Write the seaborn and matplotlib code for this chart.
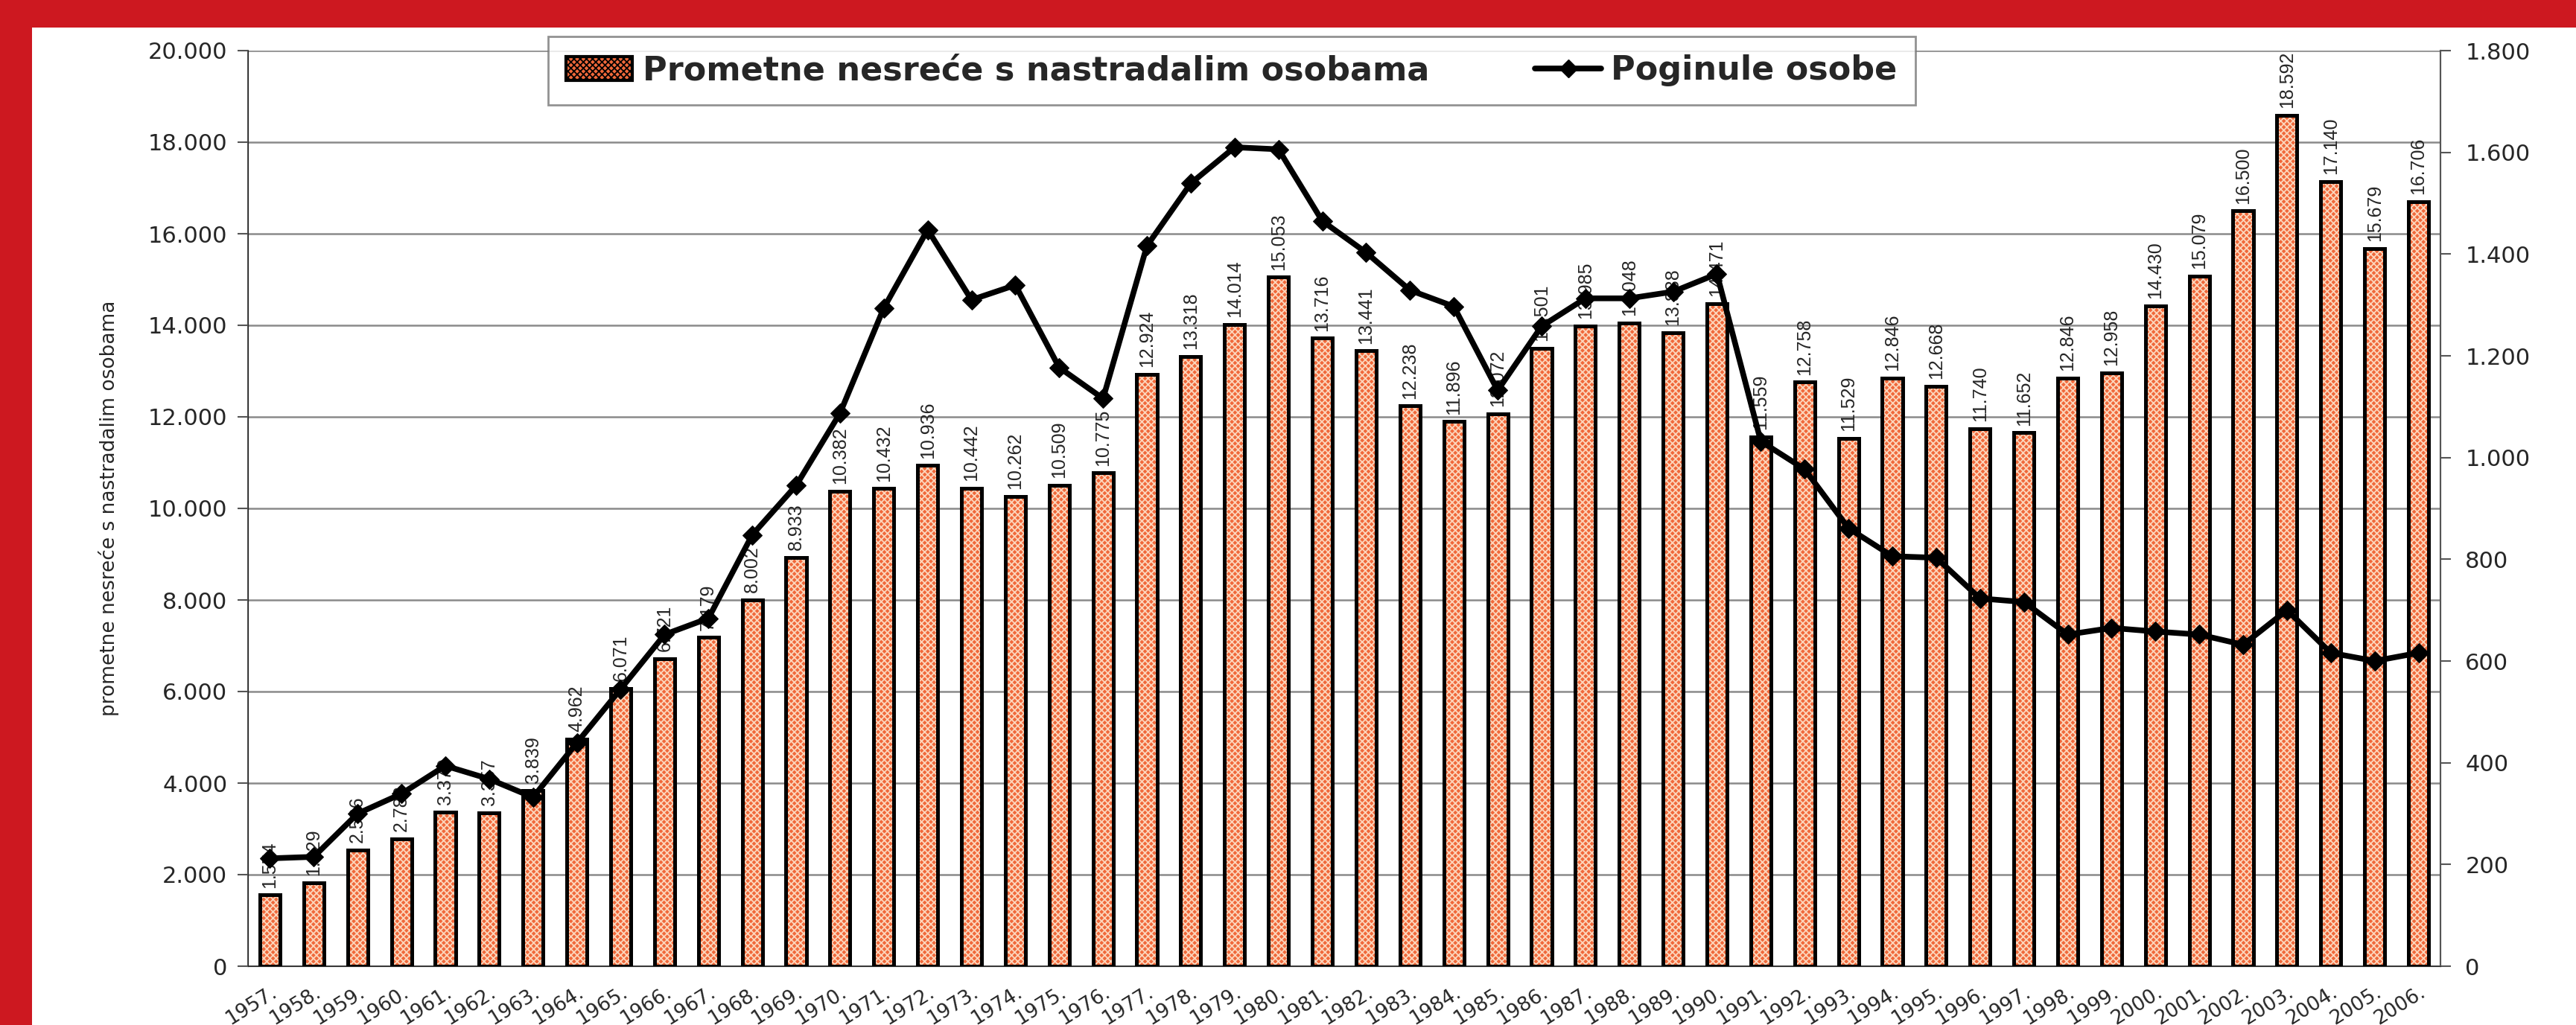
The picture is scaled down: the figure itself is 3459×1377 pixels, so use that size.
import numpy as np
import matplotlib
matplotlib.use("Agg")
import matplotlib.pyplot as plt
import matplotlib.patches as mpatches
from matplotlib.lines import Line2D
from matplotlib.ticker import FuncFormatter, MultipleLocator
import seaborn as sns

# podaci
years = [f"{y}." for y in range(1957, 2007)]
accidents = [1554, 1829, 2536, 2783, 3370, 3357, 3839, 4962, 6071, 6721,
             7179, 8002, 8933, 10382, 10432, 10936, 10442, 10262, 10509, 10775,
             12924, 13318, 14014, 15053, 13716, 13441, 12238, 11896, 12072, 13501,
             13985, 14048, 13838, 14471, 11559, 12758, 11529, 12846, 12668, 11740,
             11652, 12846, 12958, 14430, 15079, 16500, 18592, 17140, 15679, 16706]
deaths = [212, 215, 300, 339, 394, 368, 332, 439, 545, 652,
          684, 848, 945, 1087, 1294, 1448, 1310, 1339, 1177, 1116,
          1416, 1539, 1610, 1606, 1465, 1403, 1329, 1297, 1132, 1258,
          1313, 1313, 1326, 1361, 1032, 977, 861, 806, 803, 723,
          716, 652, 665, 658, 652, 632, 700, 616, 600, 616]

bar_name = "Prometne nesreće s nastradalim osobama"
line_name = "Poginule osobe"

sns.set_style("white")
plt.rcParams['font.family'] = ['DejaVu Sans']
plt.rcParams['hatch.linewidth'] = 1.3

fig = plt.figure(figsize=(34.59, 13.77), dpi=100)
fig.patch.set_facecolor('#CD1820')
# bijela podloga unutar crvenog okvira
fig.add_artist(mpatches.Rectangle((43 / 3459, 0), 1, 1 - 37 / 1377,
                                  transform=fig.transFigure, facecolor='white',
                                  edgecolor='none', zorder=0))

ax = fig.add_axes([333 / 3459, 79 / 1377, 2944 / 3459, 1230 / 1377])
ax.set_facecolor('none')

bar_w = 0.46
sns.barplot(x=years, y=accidents, ax=ax, color='#F0683A', width=bar_w,
            errorbar=None, linewidth=0, saturation=1, zorder=2)
for p in ax.patches:
    p.set_hatch('xxxx')
    p.set_edgecolor('#FCD6BC')
    p.set_linewidth(0)
vals_container = ax.containers[0]
sns.barplot(x=years, y=accidents, ax=ax, fill=False, color='black', width=bar_w,
            errorbar=None, linewidth=3.6, zorder=3)

ax.bar_label(vals_container, labels=[f"{v:,}".replace(",", ".") for v in accidents],
             rotation=90, padding=7, fontsize=18,
             family=['Liberation Sans Narrow', 'Liberation Sans'], zorder=4)

ax.set_ylim(0, 20000)
ax.set_xlim(-0.5, len(years) - 0.5)
ax.yaxis.set_major_locator(MultipleLocator(2000))
ax.yaxis.set_major_formatter(FuncFormatter(lambda v, p: f"{int(v):,}".replace(",", ".")))
ax.grid(axis='y', color='#8a8a8a', linewidth=1.8, zorder=0)
ax.set_axisbelow(True)
ax.spines['top'].set_visible(False)
for s in ['left', 'bottom', 'right']:
    ax.spines[s].set_color('#555555')
    ax.spines[s].set_linewidth(1.5)

ax.set_xticks(np.arange(len(years)))
ax.set_xticklabels(years, rotation=32, ha='right', rotation_mode='anchor', fontsize=19)
ax.tick_params(axis='x', length=0, pad=16)
ax.set_xticks(np.arange(len(years) + 1) - 0.5, minor=True)
ax.tick_params(axis='x', which='minor', length=14, direction='inout', color='#555555', width=1.5)
ax.tick_params(axis='y', length=10, color='#555555', width=1.5, labelsize=22, pad=10)
ax.set_xlabel("")
ax.set_ylabel("prometne nesreće s nastradalim osobama", fontsize=19, labelpad=28)

ax2 = ax.twinx()
sns.lineplot(x=np.arange(len(years)), y=deaths, ax=ax2, color='black', linewidth=5.5,
             marker='D', markersize=13, markeredgecolor='black', zorder=5)
ax2.set_ylim(0, 1800)
ax2.yaxis.set_major_locator(MultipleLocator(200))
ax2.yaxis.set_major_formatter(FuncFormatter(lambda v, p: f"{int(v):,}".replace(",", ".")))
ax2.tick_params(axis='y', length=10, color='#555555', width=1.5, labelsize=22, pad=14)
ax2.grid(False)
ax2.spines['top'].set_visible(False)
ax2.spines['right'].set_color('#555555')
ax2.spines['right'].set_linewidth(1.5)
ax2.set_ylabel("poginule osobe", fontsize=19, labelpad=62)
ax2.set_xlim(-0.5, len(years) - 0.5)

# legenda
h1 = mpatches.Patch(facecolor='#F0683A', hatch='xxxx', edgecolor='black', linewidth=3)
h2 = Line2D([0], [0], color='black', linewidth=5.5, marker='D', markersize=12)
leg = fig.legend([h1, h2], [bar_name, line_name], loc='center', ncol=2,
                 bbox_to_anchor=(1654 / 3459, 1 - 95 / 1377),
                 prop={'size': 32, 'weight': 'bold'}, frameon=True, fancybox=False,
                 edgecolor='#777777', handlelength=2.0, columnspacing=3.2,
                 borderpad=0.55, handletextpad=0.3, borderaxespad=0)
leg.get_frame().set_linewidth(2)

fig.savefig("out.png", dpi=100, facecolor=fig.get_facecolor())
